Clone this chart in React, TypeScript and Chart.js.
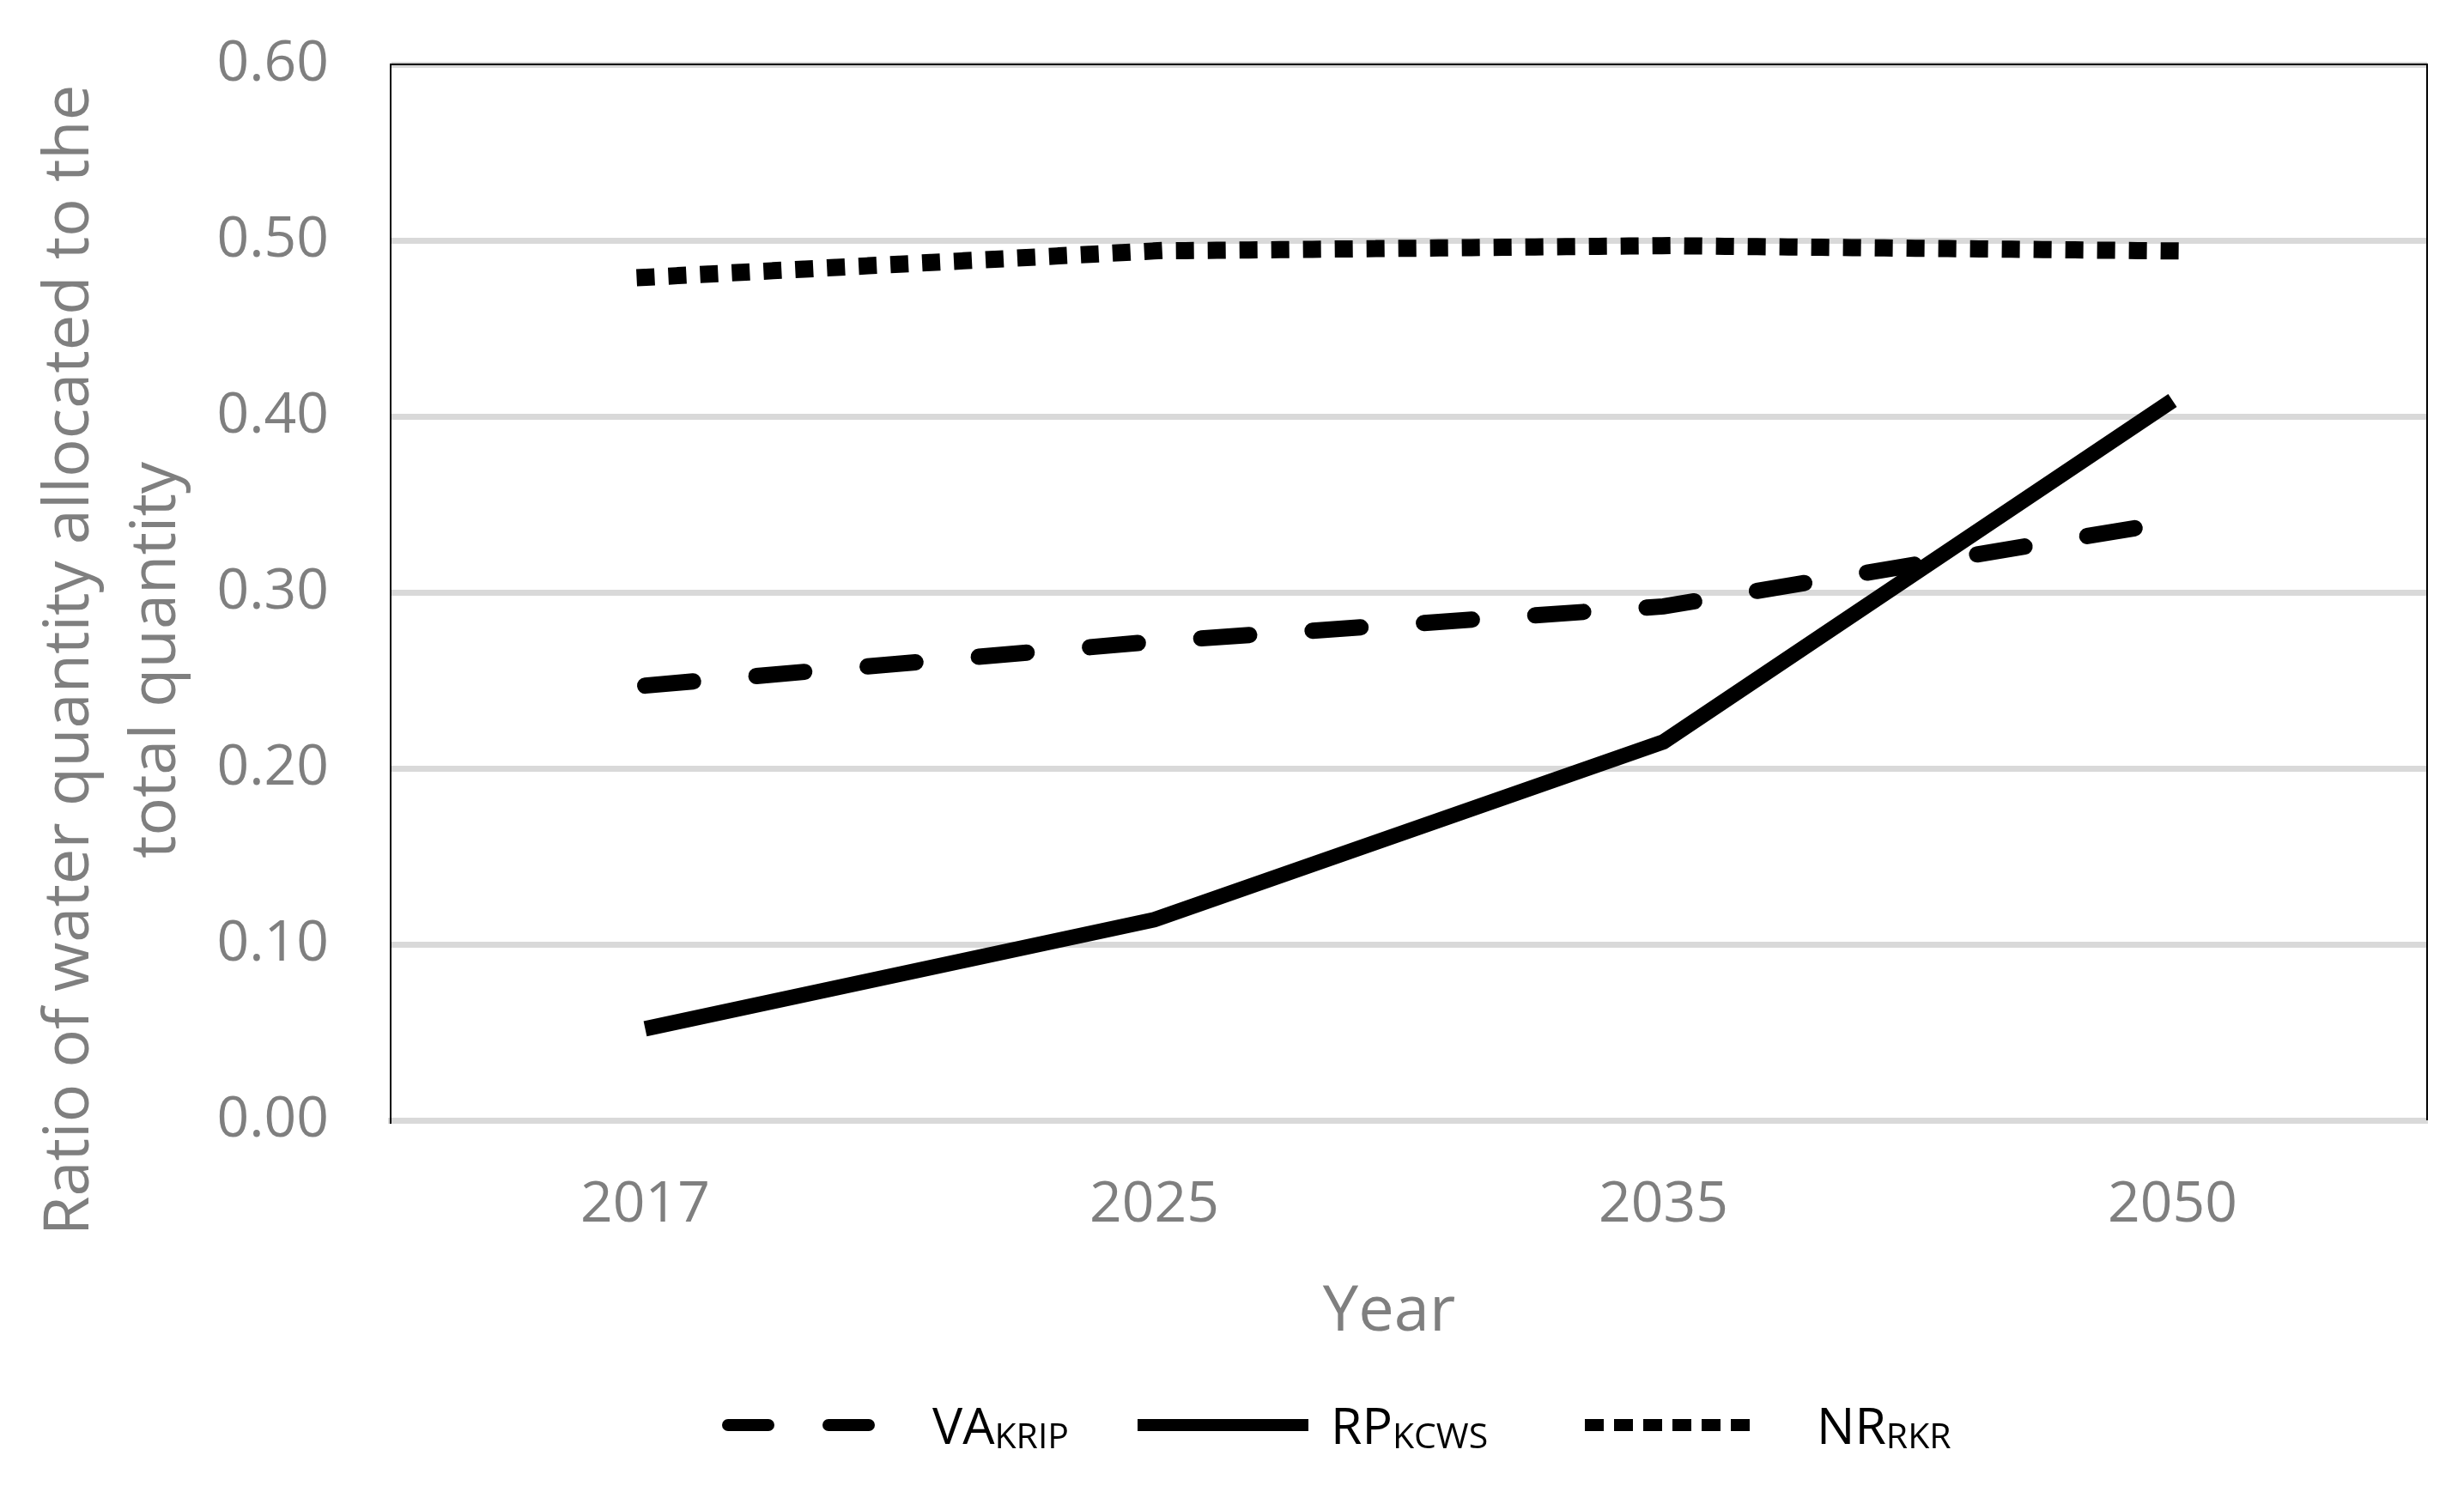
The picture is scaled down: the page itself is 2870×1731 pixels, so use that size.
import React, { useEffect, useRef } from "react";
import { Chart, registerables } from "chart.js";

Chart.register(...registerables);

const years = ["2017", "2025", "2035", "2050"];
const vaKrip = [0.247, 0.272, 0.292, 0.34];
const rpKcws = [0.052, 0.114, 0.215, 0.409];
const nrRkr = [0.479, 0.494, 0.497, 0.494];

const seriesMain = ["VA", "RP", "NR"];
const seriesSub = ["KRIP", "KCWS", "RKR"];

const yTitleLines = ["Ratio of water quantity allocated to the", "total quantity"];
const xTitle = "Year";

const GREY = "#7f7f7f";
const FONT = "'Open Sans', 'Noto Sans', sans-serif";

// legend sample layout (sample start, sample end, text start)
const legendLayout = [
  { x0: 841, x1: 1019, tx: 1086, dash: [47, 70], cap: "round" as CanvasLineCap },
  { x0: 1325, x1: 1524, tx: 1550, dash: [] as number[], cap: "butt" as CanvasLineCap },
  { x0: 1846, x1: 2040, tx: 2116, dash: [22, 12], cap: "butt" as CanvasLineCap },
];

const frameAndLegend = {
  id: "frameAndLegend",
  afterDraw(chart: any) {
    const { ctx, chartArea } = chart;
    ctx.save();

    // top and right border of the plot area
    ctx.strokeStyle = "#000";
    ctx.lineWidth = 2;
    ctx.beginPath();
    ctx.moveTo(chartArea.left, chartArea.top);
    ctx.lineTo(chartArea.right, chartArea.top);
    ctx.lineTo(chartArea.right, chartArea.bottom);
    ctx.stroke();

    // y axis title, two lines
    ctx.fillStyle = GREY;
    ctx.font = `74px ${FONT}`;
    ctx.textAlign = "center";
    ctx.textBaseline = "alphabetic";
    const baseX = [103, 204];
    yTitleLines.forEach((line, i) => {
      ctx.save();
      ctx.translate(baseX[i], 769);
      ctx.rotate(-Math.PI / 2);
      ctx.fillText(line, 0, 0);
      ctx.restore();
    });

    // x axis title
    ctx.font = `74px ${FONT}`;
    ctx.fillText(xTitle, 1618, 1550);

    // legend with subscripts
    const ly = 1660;
    legendLayout.forEach((it, i) => {
      ctx.save();
      ctx.strokeStyle = "#000";
      ctx.lineWidth = 14;
      ctx.lineCap = it.cap;
      ctx.setLineDash(it.dash);
      const pad = it.cap === "round" ? 7 : 0;
      ctx.beginPath();
      ctx.moveTo(it.x0 + pad, ly);
      ctx.lineTo(it.x1 - pad, ly);
      ctx.stroke();
      ctx.restore();

      ctx.fillStyle = "#000";
      ctx.textAlign = "left";
      ctx.textBaseline = "alphabetic";
      ctx.font = `59px ${FONT}`;
      ctx.fillText(seriesMain[i], it.tx, 1682);
      const w = ctx.measureText(seriesMain[i]).width;
      ctx.font = `41px ${FONT}`;
      ctx.fillText(seriesSub[i], it.tx + w, 1687);
    });

    ctx.restore();
  },
};

const App: React.FC = () => {
  const chartRef = useRef<HTMLCanvasElement | null>(null);

  useEffect(() => {
    if (!chartRef.current) return;
    const ctx = chartRef.current.getContext("2d");
    if (!ctx) return;

    const myChart = new Chart(ctx, {
      type: "line",
      data: {
        labels: years,
        datasets: [
          {
            label: seriesMain[0] + seriesSub[0],
            data: vaKrip,
            borderColor: "#000",
            borderWidth: 19,
            borderDash: [56, 74],
            borderCapStyle: "round",
            pointRadius: 0,
            fill: false,
          },
          {
            label: seriesMain[1] + seriesSub[1],
            data: rpKcws,
            borderColor: "#000",
            borderWidth: 18,
            borderCapStyle: "butt",
            borderJoinStyle: "miter",
            pointRadius: 0,
            fill: false,
          },
          {
            label: seriesMain[2] + seriesSub[2],
            data: nrRkr,
            borderColor: "#000",
            borderWidth: 20,
            borderDash: [1, 36],
            borderCapStyle: "square",
            pointRadius: 0,
            fill: false,
          },
        ],
      },
      options: {
        animation: false,
        responsive: true,
        maintainAspectRatio: false,
        devicePixelRatio: 1,
        layout: { padding: { left: 0, top: 75, right: 43, bottom: 0 } },
        plugins: {
          legend: { display: false },
          tooltip: { enabled: false },
        },
        scales: {
          x: {
            offset: true,
            grid: { display: false, drawTicks: false },
            border: { display: true, color: "#d9d9d9", width: 7 },
            ticks: {
              color: GREY,
              font: { family: FONT, size: 66 },
              padding: 60,
            },
            afterFit: (s: any) => {
              s.height = 426;
              s.paddingLeft = 0;
              s.paddingRight = 0;
            },
          },
          y: {
            min: 0,
            max: 0.6,
            grid: { color: "#d9d9d9", lineWidth: 7, drawTicks: false },
            border: { display: true, color: "#000", width: 2 },
            ticks: {
              stepSize: 0.1,
              color: GREY,
              font: { family: FONT, size: 66 },
              padding: 72,
              callback: (v: any) => Number(v).toFixed(2),
            },
            afterFit: (s: any) => {
              s.width = 455;
              s.paddingTop = 0;
              s.paddingBottom = 0;
            },
          },
        },
      },
      plugins: [frameAndLegend],
    });

    return () => {
      myChart.destroy();
    };
  }, []);

  return (
    <div
      style={{
        position: "fixed",
        left: 0,
        top: 0,
        width: "2870px",
        height: "1731px",
        background: "#fff",
      }}
    >
      <canvas ref={chartRef}></canvas>
    </div>
  );
};

export default App;
